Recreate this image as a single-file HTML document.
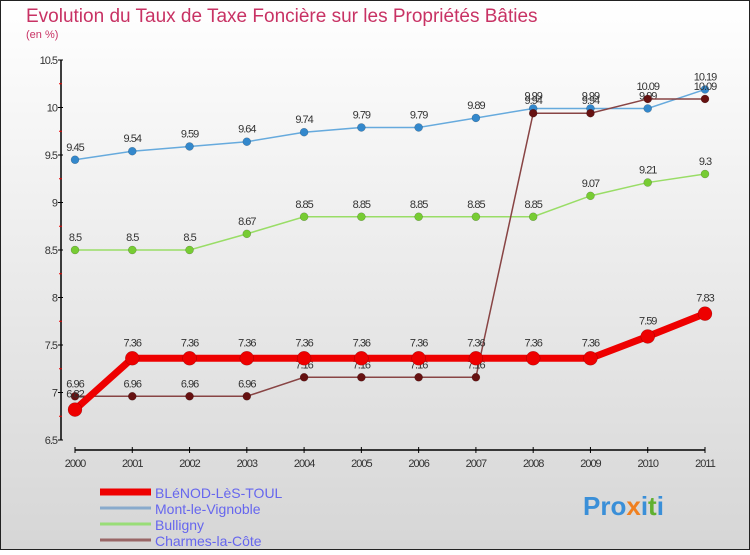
<!DOCTYPE html>
<html><head><meta charset="utf-8"><style>
body{margin:0}
svg text{font-family:"Liberation Sans",sans-serif}
</style></head><body>
<svg id="c" width="750" height="550" xmlns="http://www.w3.org/2000/svg">
<defs><linearGradient id="bg" x1="0" y1="0" x2="0" y2="1"><stop offset="0" stop-color="#ffffff"/><stop offset="1" stop-color="#d6d6d6"/></linearGradient></defs>
<rect x="0.5" y="0.5" width="749" height="549" fill="url(#bg)" stroke="#222"/>
<text x="26" y="22" font-size="19" fill="#c83264">Evolution du Taux de Taxe Foncière sur les Propriétés Bâties</text>
<text x="26" y="38" font-size="11" fill="#c83264">(en %)</text>
<g id="axes"></g><g id="series"></g><g id="legend"></g>
<text x="583" y="515" font-size="26" font-weight="bold" fill="#3a8fd8">Pro<tspan fill="#f08020">x</tspan>i<tspan fill="#60b030">t</tspan>i</text>
</svg>
<script>
const years=[2000,2001,2002,2003,2004,2005,2006,2007,2008,2009,2010,2011];
const yTicks=[6.5,7,7.5,8,8.5,9,9.5,10,10.5];
const blenod=[6.82,7.36,7.36,7.36,7.36,7.36,7.36,7.36,7.36,7.36,7.59,7.83];
const mont=[9.45,9.54,9.59,9.64,9.74,9.79,9.79,9.89,9.99,9.99,9.99,10.19];
const bulligny=[8.5,8.5,8.5,8.67,8.85,8.85,8.85,8.85,8.85,9.07,9.21,9.3];
const charmes=[6.96,6.96,6.96,6.96,7.16,7.16,7.16,7.16,9.94,9.94,10.09,10.09];
const NS="http://www.w3.org/2000/svg";
const xS=i=>75+i*(630/11);
const yS=v=>440-(v-6.5)*95;
function el(t,a,p){const e=document.createElementNS(NS,t);for(const k in a)e.setAttribute(k,a[k]);p.appendChild(e);return e;}
const ax=document.getElementById('axes');
const yl=el('line',{x1:61,y1:60,x2:61,y2:440,stroke:'#000','stroke-width':1.5},ax);


const xl=el('line',{x1:75,y1:450,x2:705,y2:450,stroke:'#000','stroke-width':1.5},ax);


yTicks.forEach(v=>{
 el('line',{x1:58,y1:yS(v),x2:63,y2:yS(v),stroke:'#000'},ax);
 const t=el('text',{x:57,y:yS(v)+4,'font-size':11,'text-anchor':'end',fill:'#333','letter-spacing':'-1'},ax);
 t.textContent=String(v);
 
 
 if(v<10.5){el('line',{x1:59,y1:yS(v+0.25),x2:62,y2:yS(v+0.25),stroke:'#e00'},ax);}
});
years.forEach((y,i)=>{
 el('line',{x1:xS(i),y1:447,x2:xS(i),y2:453,stroke:'#000'},ax);
 const t=el('text',{x:xS(i),y:467,'font-size':11,'text-anchor':'middle',fill:'#333','letter-spacing':'-1'},ax);
 t.textContent=String(y);
 
 
});
const sg=document.getElementById('series');
function draw(vals,color,dot,w,r,name){
 const g=el('g',{},sg);
 
 
 const p=el('polyline',{points:vals.map((v,i)=>xS(i)+','+yS(v)).join(' '),fill:'none',stroke:color,'stroke-width':w},g);
 
 
 vals.forEach((v,i)=>{
  const c=el('circle',{cx:xS(i),cy:yS(v),r:r,fill:dot,stroke:'rgba(0,0,0,0.3)','stroke-width':0.5},g);
  
  
  const t=el('text',{x:xS(i),y:yS(v)-(r+5),'font-size':11,'text-anchor':'middle',fill:'#333','letter-spacing':'-1'},g);
  t.textContent=String(v);
  
  
 });
}
draw(bulligny,'#99dd66','#77cc33',1.5,4,'bulligny');
draw(mont,'#66aadd','#3388cc',1.5,4,'mont-le-vignoble');
draw(charmes,'#884444','#661111',1.5,4,'charmes-la-cote');
draw(blenod,'#ee0000','#ee0000',7,7,'blenod-les-toul');
const lg=document.getElementById('legend');
[['BLéNOD-LèS-TOUL','#ee0000',7],['Mont-le-Vignoble','#88aacc',3],['Bulligny','#99dd77',3],['Charmes-la-Côte','#996666',3]].forEach((s,i)=>{
 const y=492+i*16;
 const g=el('g',{},lg);
 
 
 el('line',{x1:100,y1:y,x2:151,y2:y,stroke:s[1],'stroke-width':s[2]},g);
 const t=el('text',{x:155,y:y+6,'font-size':14,fill:'#6666ee'},g);
 t.textContent=s[0];
});
</script>
</body></html>
